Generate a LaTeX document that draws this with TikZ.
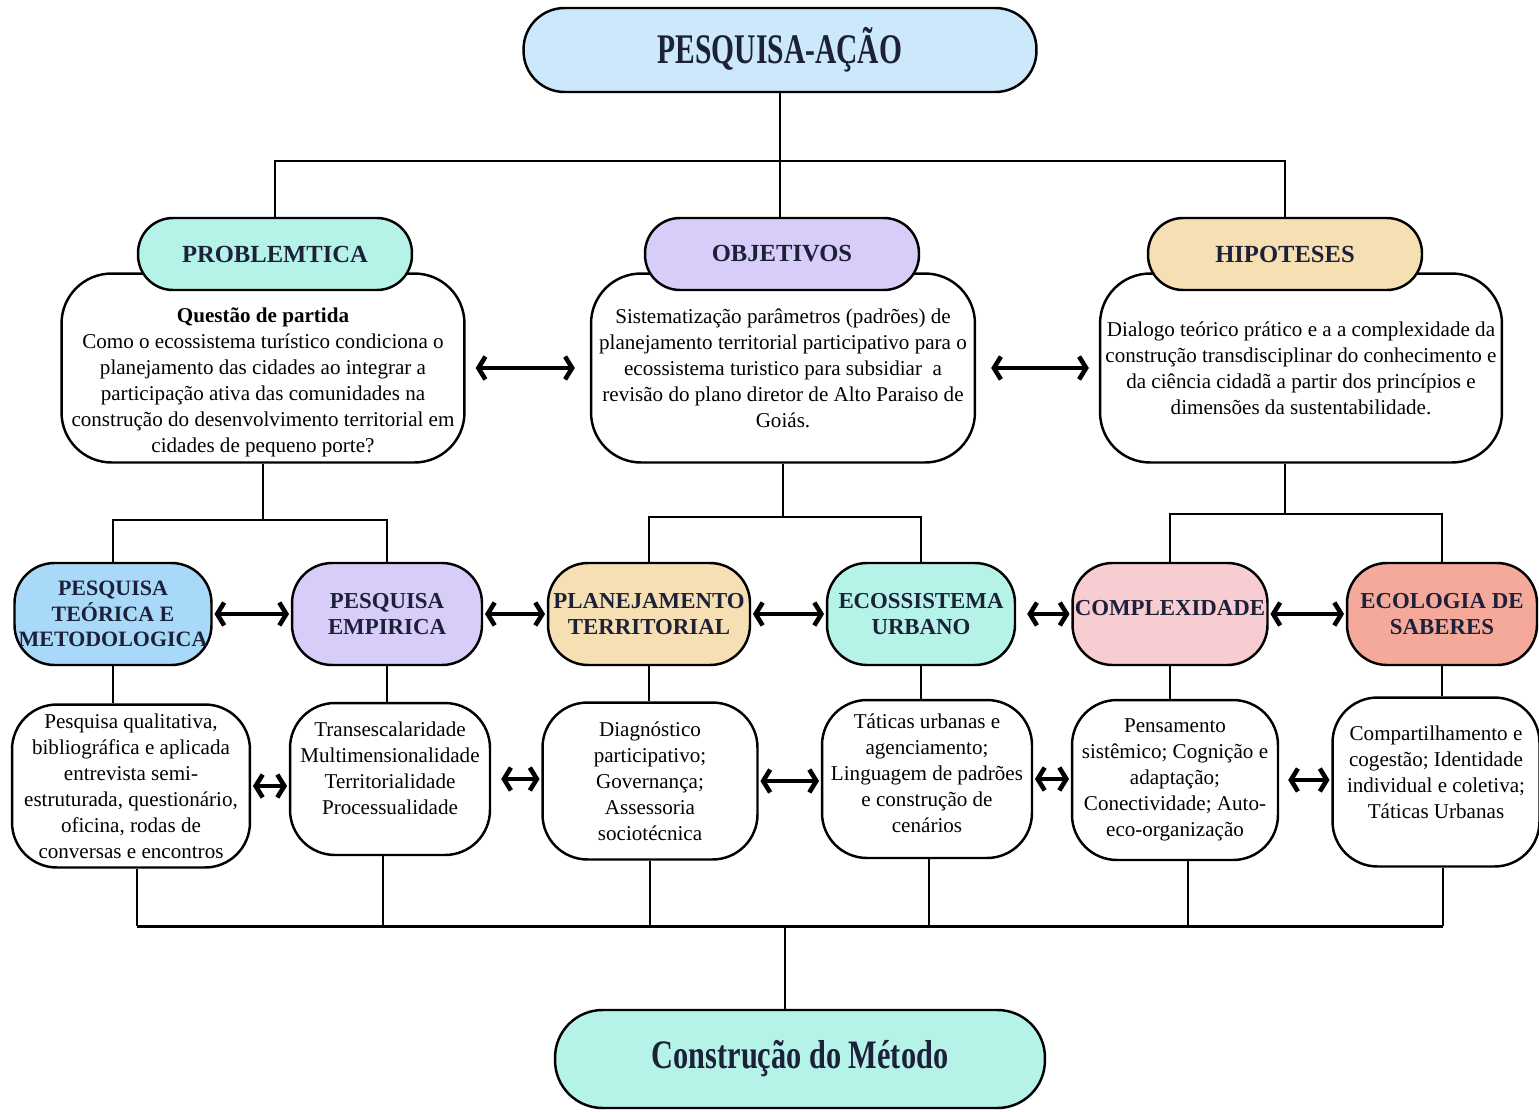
\documentclass[tikz,border=0pt]{standalone}
\usepackage{fontspec}
\setmainfont{Liberation Serif}
\usepackage{xcolor}
\usepackage{graphicx}
\usetikzlibrary{arrows.meta}
\definecolor{a1}{HTML}{CCE8FA}
\definecolor{a2}{HTML}{A9D9F8}
\definecolor{m1}{HTML}{B5F3E8}
\definecolor{l1}{HTML}{D8CCF8}
\definecolor{t1}{HTML}{F6DFB2}
\definecolor{p1}{HTML}{F7CDD2}
\definecolor{s1}{HTML}{F4A99A}
\definecolor{tx}{HTML}{1C2038}

\tikzset{
  line/.style={line width=1.1pt},
  wbox/.style={draw, line width=1.4pt, fill=white, align=center, inner sep=1pt, font=\fontsize{12}{14.8}\selectfont},
  head/.style={draw, line width=1.4pt, align=center, rounded corners=0.7cm, minimum width=5.48cm, minimum height=1.44cm, text=tx, font=\fontsize{14}{16}\selectfont\bfseries},
  mid/.style={draw, line width=1.4pt, align=center, rounded corners=0.8cm, minimum height=2.04cm, inner sep=1pt, text=tx, font=\fontsize{13}{15}\selectfont\bfseries},
  dbl/.style={line width=2.6pt, shorten <=1pt, shorten >=1pt, {Straight Barb[length=4pt,width=13pt]}-{Straight Barb[length=4pt,width=13pt]}},
}
\newcommand{\narrow}[2]{\scalebox{#1}[1]{#2}}

\begin{document}
\begin{tikzpicture}[x=0.02cm, y=-0.02cm]
  \useasboundingbox (0,0) rectangle (1539,1112);

  % top
  \node (top) at (780,50)[draw, line width=1.4pt, fill=a1, rounded corners=0.82cm, minimum width=10.26cm, minimum height=1.68cm, text=tx, font=\fontsize{24}{26}\selectfont\bfseries]{\narrow{0.7}{PESQUISA-AÇÃO}};

  % white boxes, then headers on top of them
  \node (pbox) at (263,368)[wbox, rounded corners=1cm, minimum width=8.06cm, minimum height=3.78cm]{\rule{0pt}{25pt}{\bfseries Questão de partida}\\Como o ecossistema turístico condiciona o\\planejamento das cidades ao integrar a\\participação ativa das comunidades na\\construção do desenvolvimento territorial em\\cidades de pequeno porte?};
  \node (obox) at (783,368)[wbox, rounded corners=1cm, minimum width=7.68cm, minimum height=3.78cm]{Sistematização parâmetros (padrões) de\\planejamento territorial participativo para o\\ecossistema turistico para subsidiar\ \ a\\revisão do plano diretor de Alto Paraiso de\\Goiás.};
  \node (hbox) at (1301,368)[wbox, rounded corners=1cm, minimum width=8.04cm, minimum height=3.78cm]{Dialogo teórico prático e a a complexidade da\\construção transdisciplinar do conhecimento e\\da ciência cidadã a partir dos princípios e\\dimensões da sustentabilidade.};
  \node (hp) at (275,254)[head, fill=m1]{PROBLEMTICA};
  \node (ho) at (782,254)[head, fill=l1]{OBJETIVOS};
  \node (hh) at (1285,254)[head, fill=t1]{HIPOTESES};

  \draw[line] (top.south) -- ++(0,68) coordinate (j1);
  \draw[line] (hp.north) |- (j1) -| (hh.north);
  \draw[line] (j1) -- (j1 |- ho.north);
  \draw[dbl, shorten <=0.2cm, shorten >=0.3cm] (pbox.east) -- (obox.west);
  \draw[dbl, shorten <=0.3cm, shorten >=0.2cm] (obox.east) -- (hbox.west);

  % middle row
  \node (mt) at (113,614)[mid, fill=a2, minimum width=3.94cm, font=\fontsize{12.5}{14.5}\selectfont\bfseries]{PESQUISA\\TEÓRICA E\\METODOLOGICA};
  \node (me) at (387,614)[mid, fill=l1, minimum width=3.8cm]{PESQUISA\\EMPIRICA};
  \node (mp) at (649,614)[mid, fill=t1, minimum width=4.04cm]{PLANEJAMENTO\\TERRITORIAL};
  \node (mu) at (921,614)[mid, fill=m1, minimum width=3.76cm]{ECOSSISTEMA\\URBANO};
  \node (mc) at (1170,614)[mid, fill=p1, minimum width=3.9cm]{COMPLEXIDADE\rule[-7pt]{0pt}{1pt}};
  \node (ms) at (1442,614)[mid, fill=s1, minimum width=3.8cm]{ECOLOGIA DE\\SABERES};

  \draw[line] (pbox.south) -- ++(0,56) coordinate (j2);
  \draw[line] (mt.north) |- (j2) -| (me.north);
  \draw[line] (obox.south) -- ++(0,53) coordinate (j3);
  \draw[line] (mp.north) |- (j3) -| (mu.north);
  \draw[line] (hbox.south -| hh.center) -- ++(0,50) coordinate (j4);
  \draw[line] (mc.north) |- (j4) -| (ms.north);

  \draw[dbl] (mt.east) -- (me.west);
  \draw[dbl] (me.east) -- (mp.west);
  \draw[dbl] (mp.east) -- (mu.west);
  \draw[dbl, shorten <=0.22cm] (mu.east) -- (mc.west);
  \draw[dbl] (mc.east) -- (ms.west);

  % bottom row
  \node (b1) at (131,786)[wbox, rounded corners=0.9cm, minimum width=4.76cm, minimum height=3.26cm]{Pesquisa qualitativa,\\bibliográfica e aplicada\\entrevista semi-\\estruturada, questionário,\\oficina, rodas de\\conversas e encontros};
  \node (b2) at (390,779)[wbox, rounded corners=0.9cm, minimum width=4cm, minimum height=3.04cm]{Transescalaridade\\Multimensionalidade\\Territorialidade\\Processualidade\\[-2pt]\mbox{}};
  \node (b3) at (650,781)[wbox, rounded corners=0.9cm, minimum width=4.3cm, minimum height=3.14cm]{Diagnóstico\\participativo;\\Governança;\\Assessoria\\sociotécnica};
  \node (b4) at (927,779)[wbox, rounded corners=0.9cm, minimum width=4.2cm, minimum height=3.16cm]{Táticas urbanas e\\agenciamento;\\Linguagem de padrões\\e construção de\\cenários\\[-8pt]\mbox{}};
  \node (b5) at (1175,780)[wbox, rounded corners=0.9cm, minimum width=4.12cm, minimum height=3.2cm]{Pensamento\\sistêmico; Cognição e\\adaptação;\\Conectividade; Auto-\\eco-organização};
  \node (b6) at (1436,782)[wbox, rounded corners=0.9cm, minimum width=4.14cm, minimum height=3.38cm]{Compartilhamento e\\cogestão; Identidade\\individual e coletiva;\\Táticas Urbanas\\[-4pt]\mbox{}};

  \draw[line] (mt.south) -- (mt.south |- b1.north);
  \draw[line] (me.south) -- (me.south |- b2.north);
  \draw[line] (mp.south) -- (mp.south |- b3.north);
  \draw[line] (mu.south) -- (mu.south |- b4.north);
  \draw[line] (mc.south) -- (mc.south |- b5.north);
  \draw[line] (ms.south) -- (ms.south |- b6.north);

  \draw[dbl] (b1.east) -- (b1.east -| b2.west);
  \draw[dbl, shorten <=0.2cm] (b2.east) -- (b2.east -| b3.west);
  \draw[dbl] (b3.east) -- (b3.east -| b4.west);
  \draw[dbl] (b4.east) -- (b4.east -| b5.west);
  \draw[dbl, shorten <=0.18cm] (b5.east) -- (b5.east -| b6.west);

  % bus to the final node
  \node (fin) at (800,1059)[draw, line width=1.4pt, fill=m1, rounded corners=0.95cm, minimum width=9.8cm, minimum height=1.96cm, text=tx, font=\fontsize{23}{25}\selectfont\bfseries]{\narrow{0.75}{Construção do Método}};
  \coordinate (bus) at (785,926);
  \draw[line width=1.7pt] ([xshift=0.12cm]b1.south |- bus) -- ([xshift=0.14cm]b6.south |- bus);
  \foreach \b/\d in {b1/0.12,b2/-0.14,b3/0,b4/0.04,b5/0.26,b6/0.14}
    \draw[line] ([xshift=\d cm]\b.south) -- ([xshift=\d cm]\b.south |- bus);
  \draw[line] (bus) -- (bus |- fin.north);
\end{tikzpicture}
\end{document}
